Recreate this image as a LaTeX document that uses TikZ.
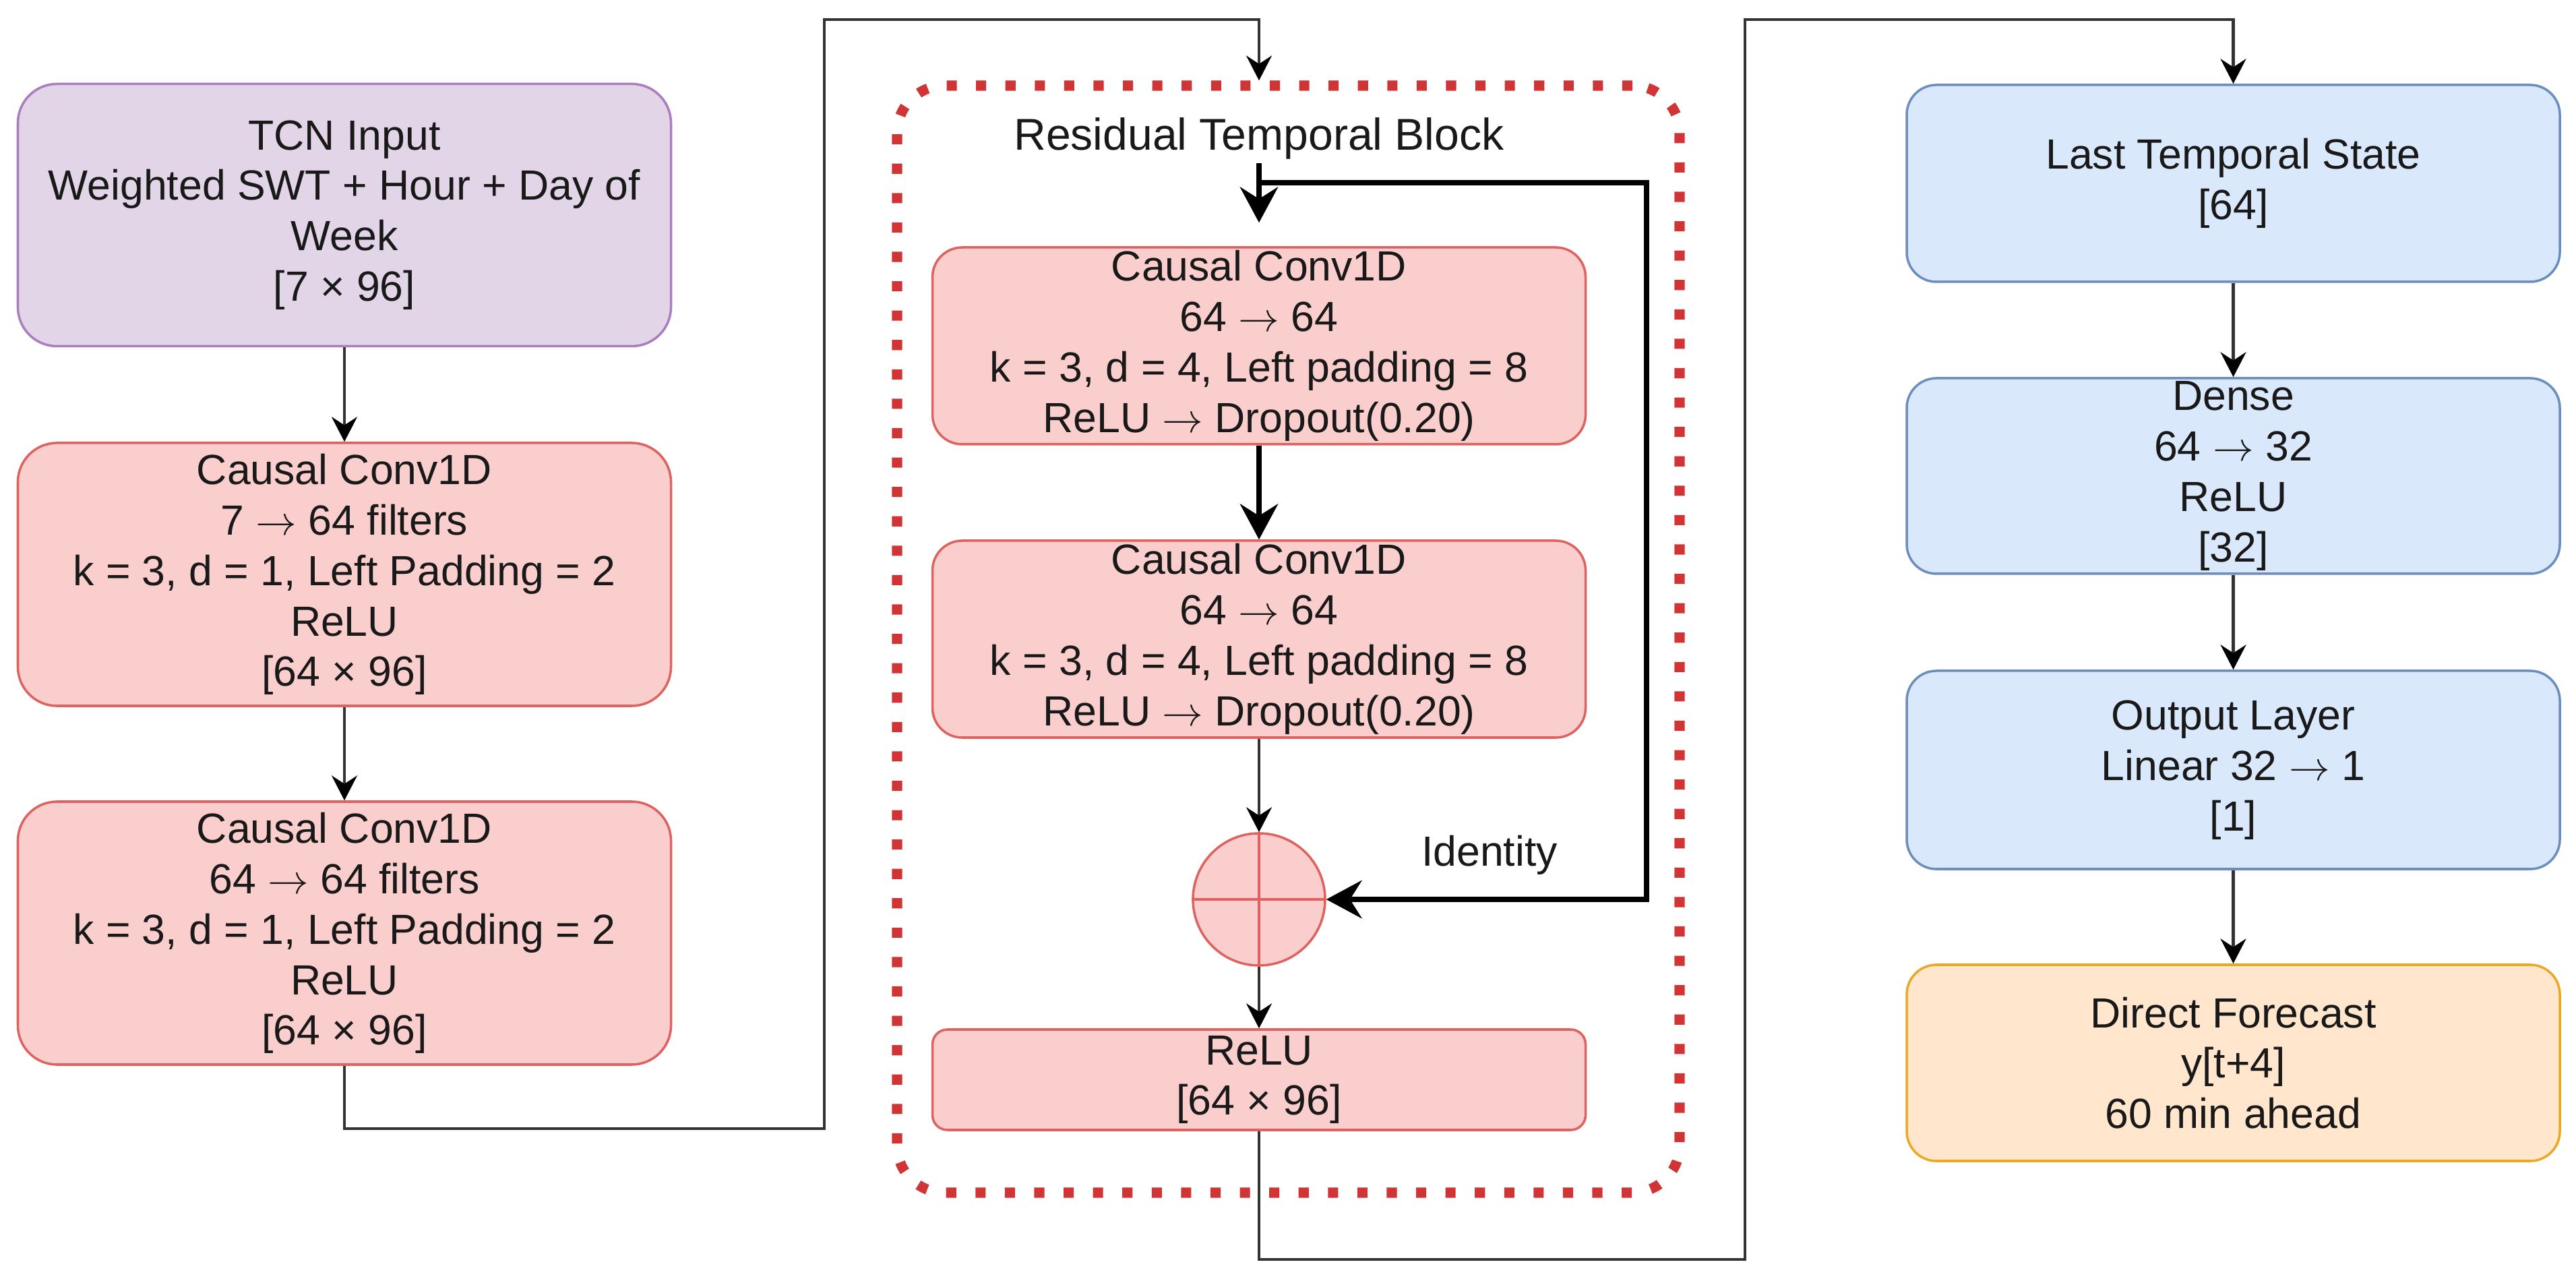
\documentclass[tikz,border=0pt]{standalone}
\usepackage{fontspec}
\setmainfont{Liberation Sans}
\usepackage{tikz}
\usetikzlibrary{arrows.meta,positioning,calc}
\definecolor{purpleA}{RGB}{225,213,231}
\definecolor{purpleB}{RGB}{172,124,192}
\definecolor{redA}{RGB}{250,206,204}
\definecolor{redB}{RGB}{222,98,95}
\definecolor{redC}{RGB}{208,52,52}
\definecolor{blueA}{RGB}{218,232,252}
\definecolor{blueB}{RGB}{108,142,191}
\definecolor{orangeA}{RGB}{255,230,204}
\definecolor{orangeB}{RGB}{236,168,34}
\newcommand{\boxfont}{\fontsize{17.8}{21.3}\selectfont}
\newcommand{\blockfont}{\fontsize{18.8}{22.5}\selectfont}
\newcommand{\toarrow}{$\rightarrow$}
\tikzset{
	layerbox/.style={draw,line width=1pt,align=center,inner sep=0pt,minimum width=9.69cm,font=\boxfont,text=black!90},
	inbox/.style={layerbox,fill=purpleA,draw=purpleB,rounded corners=0.58cm},
	convbox/.style={layerbox,fill=redA,draw=redB},
	headbox/.style={layerbox,fill=blueA,draw=blueB,rounded corners=0.44cm,minimum height=2.92cm},
	outbox/.style={layerbox,fill=orangeA,draw=orangeB,rounded corners=0.44cm,minimum height=2.91cm},
	thinflow/.style={line width=1.2pt,draw=black!80,-{Stealth[length=10.5pt,width=10.8pt,inset=3.5pt,color=black]}},
	boldflow/.style={line width=2.3pt,draw=black,-{Stealth[length=15pt,width=16pt,inset=5pt]}}
}

\begin{document}
\begin{tikzpicture}
		\useasboundingbox (0,0) rectangle (38.22,18.99);
		\node[inbox,minimum height=3.89cm] (tcnin) at (5.11,15.80) {TCN Input\\Weighted SWT + Hour + Day of\\Week\\{[}7 × 96{]}};
		\node[convbox,rounded corners=0.58cm,minimum height=3.90cm] (convone) at (5.11,10.47) {Causal Conv1D\\7 \toarrow{} 64 filters\\k = 3, d = 1, Left Padding = 2\\ReLU\\{[}64 × 96{]}};
		\node[convbox,rounded corners=0.58cm,minimum height=3.90cm] (convtwo) at (5.11,5.15) {Causal Conv1D\\64 \toarrow{} 64 filters\\k = 3, d = 1, Left Padding = 2\\ReLU\\{[}64 × 96{]}};
		\node[draw=redC,line width=4.3pt,dash pattern=on 4.3pt off 8.1pt,rounded corners=0.7cm,minimum width=11.61cm,minimum height=16.42cm] (block) at (19.115,9.51) {};
		\node[font=\blockfont,text=black!90] (blocktitle) at (18.68,16.94) {Residual Temporal Block};
		\node[convbox,rounded corners=0.44cm,minimum height=2.92cm] (conva) at (18.68,13.86) {Causal Conv1D\\64 \toarrow{} 64\\k = 3, d = 4, Left padding = 8\\ReLU \toarrow{} Dropout(0.20)};
		\node[convbox,rounded corners=0.44cm,minimum height=2.92cm] (convb) at (18.68,9.51) {Causal Conv1D\\64 \toarrow{} 64\\k = 3, d = 4, Left padding = 8\\ReLU \toarrow{} Dropout(0.20)};
		\node[circle,draw=redB,fill=redA,line width=1pt,minimum size=1.96cm,inner sep=0pt] (sum) at (18.68,5.65) {};
		\draw[redB,line width=1pt] (sum.north) -- (sum.south) (sum.west) -- (sum.east);
		\node[convbox,rounded corners=0.22cm,minimum height=1.49cm] (relu) at (18.68,2.975) {ReLU\\{[}64 × 96{]}};
		\node[font=\boxfont,text=black!90] (identlbl) at (22.10,6.31) {Identity};
		\node[headbox] (last) at (33.135,16.27) {Last Temporal State\\{[}64{]}};
		\node[headbox,minimum height=2.90cm] (dense) at (33.135,11.93) {Dense\\64 \toarrow{} 32\\ReLU\\{[}32{]}};
		\node[headbox,minimum height=2.94cm] (outlayer) at (33.135,7.57) {Output Layer\\Linear 32 \toarrow{} 1\\{[}1{]}};
		\node[outbox] (forecast) at (33.135,3.225) {Direct Forecast\\y[t+4]\\60 min ahead};
		\coordinate (lowleft) at (12.23,2.25);
		\coordinate (topleft) at (18.68,18.70);
		\coordinate (entry) at (18.68,16.57);
		\coordinate (split) at (18.68,16.28);
		\coordinate (loopturn) at (24.43,16.28);
		\coordinate (lowright) at (25.89,0.31);
		\coordinate (topright) at (33.135,18.70);
		\draw[thinflow] (tcnin) -- (convone);
		\draw[thinflow] (convone) -- (convtwo);
		\draw[thinflow] (convtwo.south) |- (lowleft) |- (topleft) -- (conva |- block.north);
		\draw[boldflow,shorten >=0.35cm] (entry) -- (conva);
		\draw[boldflow] (split) -- (loopturn) |- (sum.east);
		\draw[boldflow] (conva) -- (convb);
		\draw[thinflow] (convb) -- (sum);
		\draw[thinflow] (sum) -- (relu);
		\draw[thinflow] (relu.south) |- (lowright) |- (topright) -- (last.north);
		\draw[thinflow] (last) -- (dense);
		\draw[thinflow] (dense) -- (outlayer);
		\draw[thinflow] (outlayer) -- (forecast);
\end{tikzpicture}
\end{document}
